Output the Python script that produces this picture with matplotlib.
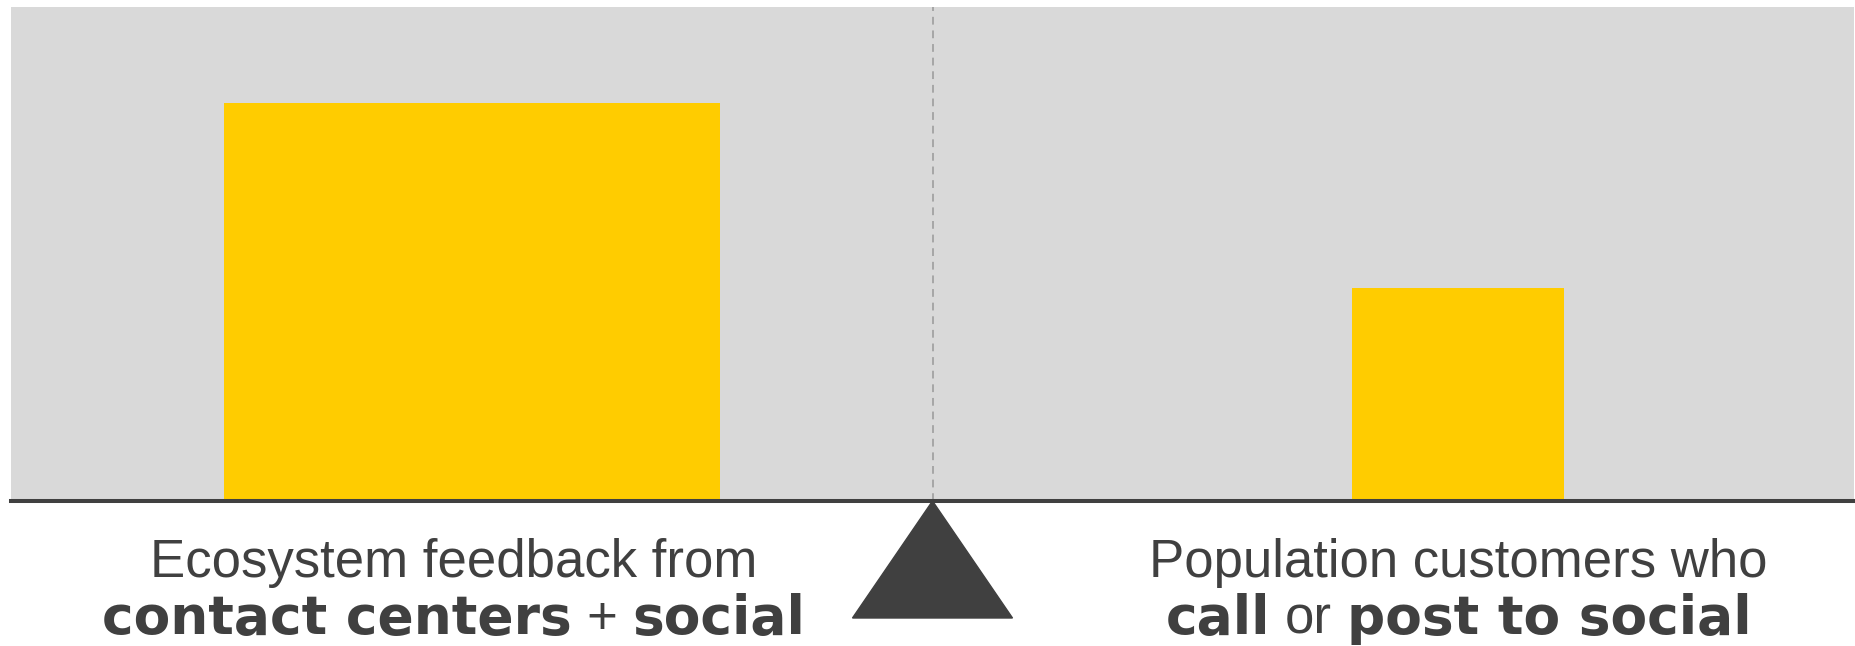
import matplotlib
matplotlib.use('Agg')
import matplotlib.pyplot as plt
import matplotlib.transforms as mtransforms
from matplotlib.patches import Polygon

# data
categories = ['Ecosystem feedback', 'Population who call or post']
values = [80.6, 43.1]
bar_pos = [2.50, 7.85]
bar_width = [2.69, 1.15]

# label lines: (text, bold?)
left_line1 = [('Ecosystem feedback from', False)]
left_line2 = [('contact centers', True), ('+', False), ('social', True)]
right_line1 = [('Population customers who', False)]
right_line2 = [('call', True), ('or', False), ('post to social', True)]
label_x = [2.40, 7.855]

GRAY = '#D9D9D9'
YELLOW = '#FFCC00'
DARK = '#404040'

fig = plt.figure(figsize=(18.55, 6.46), dpi=100)
ax = fig.add_axes([11 / 1855, 145 / 646, 1843 / 1855, 494 / 646])
ax.set_facecolor(GRAY)
ax.set_xlim(0, 10)
ax.set_ylim(0, 100)
for s in ax.spines.values():
    s.set_visible(False)
ax.set_xticks([])
ax.set_yticks([])

ax.bar(bar_pos, values, width=bar_width, color=YELLOW, zorder=2)

# fulcrum marker line + beam
ax.axvline(5, color='#A6A6A6', lw=1.4, linestyle=(0, (4, 3)), zorder=1)
ax.axhline(0, color=DARK, lw=2.9, zorder=3, clip_on=False)

# triangle fulcrum (offsets in inches from the beam centre)
tri_trans = fig.dpi_scale_trans + mtransforms.ScaledTranslation(5, 0, ax.transData)
tri = Polygon([(0, 0), (-0.80, -1.17), (0.80, -1.17)], closed=True,
              transform=tri_trans, facecolor=DARK, edgecolor=DARK, clip_on=False)
fig.add_artist(tri)

REG = dict(family='Liberation Sans', fontweight='normal', fontsize=38)
BOLD = dict(family='DejaVu Sans', fontweight='bold', fontsize=38.5)

renderer = fig.canvas.get_renderer()
W = fig.get_figwidth() * fig.dpi


def width_of(s, props):
    t = fig.text(0, 0, s, **props)
    w = t.get_window_extent(renderer).width
    t.remove()
    return w


def space_of(props):
    return width_of('x x', props) - width_of('xx', props)


def draw_line(pieces, xc_data, y_fig):
    xc = ax.transData.transform((xc_data, 0))[0]
    widths = [width_of(s, REG if not b else BOLD) for s, b in pieces]
    gaps = [space_of(REG) for _ in range(len(pieces) - 1)]
    total = sum(widths) + sum(gaps)
    x = xc - total / 2
    for i, (s, b) in enumerate(pieces):
        fig.text(x / W, y_fig, s, color=DARK, va='baseline', ha='left',
                 **(BOLD if b else REG))
        x += widths[i] + (gaps[i] if i < len(gaps) else 0)


draw_line(left_line1, label_x[0], 69 / 646)
draw_line(left_line2, label_x[0], 12 / 646)
draw_line(right_line1, label_x[1], 69 / 646)
draw_line(right_line2, label_x[1], 12 / 646)

fig.savefig('out.png', dpi=100, facecolor='white')
